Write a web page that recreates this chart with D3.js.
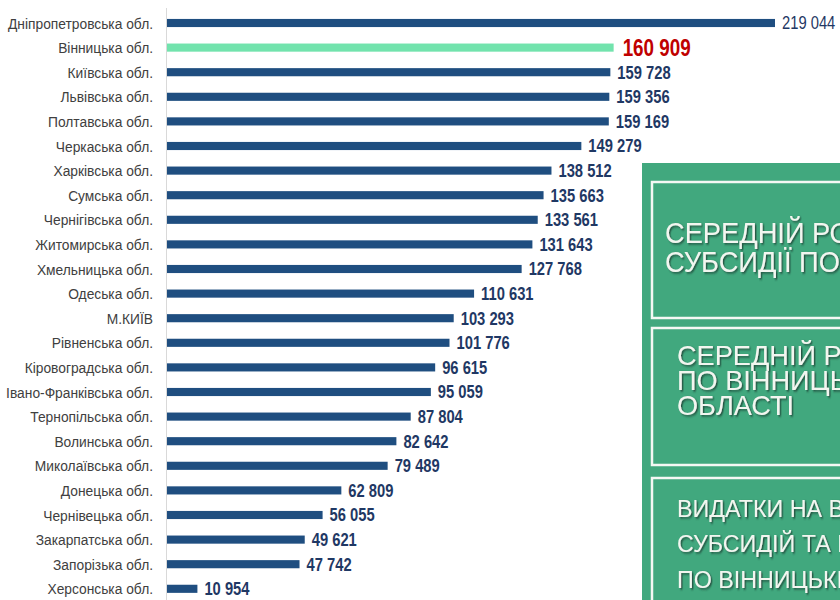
<!DOCTYPE html>
<html>
<head>
<meta charset="utf-8">
<script src="https://cdn.jsdelivr.net/npm/d3@7"></script>
<style>
  body { margin: 0; background: #fff; }
  svg { display: block; font-family: "Liberation Sans", Arial, sans-serif; }
</style>
</head>
<body>
<div id="chart"></div>
<script>
const regions = [
  'Дніпропетровська обл.', 'Вінницька обл.', 'Київська обл.', 'Львівська обл.',
  'Полтавська обл.', 'Черкаська обл.', 'Харківська обл.', 'Сумська обл.',
  'Чернігівська обл.', 'Житомирська обл.', 'Хмельницька обл.', 'Одеська обл.',
  'М.КИЇВ', 'Рівненська обл.', 'Кіровоградська обл.', 'Івано-Франківська обл.',
  'Тернопільська обл.', 'Волинська обл.', 'Миколаївська обл.', 'Донецька обл.',
  'Чернівецька обл.', 'Закарпатська обл.', 'Запорізька обл.', 'Херсонська обл.'
];
const values = [
  219044, 160909, 159728, 159356, 159169, 149279, 138512, 135663,
  133561, 131643, 127768, 110631, 103293, 101776, 96615, 95059,
  87804, 82642, 79489, 62809, 56055, 49621, 47742, 10954
];
const highlight = 'Вінницька обл.';

const boxTexts = [
  ['СЕРЕДНІЙ РОЗМІР', 'СУБСИДІЇ ПО УКРАЇНІ'],
  ['СЕРЕДНІЙ РОЗМІР СУБСИДІЇ', 'ПО ВІННИЦЬКІЙ', 'ОБЛАСТІ'],
  ['ВИДАТКИ НА ВИПЛАТУ', 'СУБСИДІЙ ТА ПІЛЬГ', 'ПО ВІННИЦЬКІЙ ОБЛАСТІ']
];

const width = 840, height = 600;
const narrow = 0.82; // Arial Narrow look: Liberation Sans squeezed horizontally
const data = regions.map((r, i) => ({ region: r, value: values[i] }));

const svg = d3.select('#chart').append('svg')
  .attr('width', width)
  .attr('height', height);

const defs = svg.append('defs');
const shadow = defs.append('filter').attr('id', 'shadow')
  .attr('x', '-5%').attr('y', '-20%').attr('width', '110%').attr('height', '150%');
shadow.append('feDropShadow')
  .attr('dx', 1.5).attr('dy', 1.5).attr('stdDeviation', 0.8)
  .attr('flood-color', '#1d4a37').attr('flood-opacity', 0.85);

const xScale = d3.scaleLinear()
  .domain([0, d3.max(values)])
  .range([167, 775]);

const yScale = d3.scaleBand()
  .domain(regions)
  .range([10.7, 601.1])
  .paddingInner(0.67)
  .paddingOuter(0.335);

const fmt = d3.formatLocale({ decimal: ',', thousands: ' ', grouping: [3], currency: ['', ''] }).format(',d');
const yMid = d => yScale(d.region) + yScale.bandwidth() / 2;

// axis line
svg.append('line')
  .attr('x1', 166.5).attr('x2', 166.5)
  .attr('y1', 8).attr('y2', height)
  .attr('stroke', '#d9d9d9')
  .attr('stroke-width', 1);

// category labels
svg.selectAll('text.cat')
  .data(data)
  .enter().append('text')
  .attr('class', 'cat')
  .attr('transform', d => `translate(153,${yMid(d)}) scale(0.89,1)`)
  .attr('dy', '0.36em')
  .attr('text-anchor', 'end')
  .attr('fill', '#404040')
  .style('font-size', '15.5px')
  .text(d => d.region);

// bars
svg.selectAll('rect.bar')
  .data(data)
  .enter().append('rect')
  .attr('class', 'bar')
  .attr('x', xScale(0))
  .attr('y', d => yScale(d.region))
  .attr('width', d => xScale(d.value) - xScale(0))
  .attr('height', yScale.bandwidth())
  .attr('fill', d => d.region === highlight ? '#72e3ad' : '#1f4e80');

// value labels
svg.selectAll('text.val')
  .data(data)
  .enter().append('text')
  .attr('class', 'val')
  .attr('transform', d => `translate(${xScale(d.value) + (d.region === highlight ? 9 : 7)},${yMid(d)}) scale(${narrow},1)`)
  .attr('dy', '0.36em')
  .attr('fill', d => d.region === highlight ? '#c00000' : '#1f3864')
  .style('font-size', d => d.region === highlight ? '23px' : '18px')
  .style('font-weight', (d, i) => i === 0 ? 'normal' : 'bold')
  .text(d => fmt(d.value));

// green panel with boxes
svg.append('rect')
  .attr('x', 642).attr('y', 163)
  .attr('width', width - 642).attr('height', height - 163)
  .attr('fill', '#41a87e');

const boxes = [
  { y: 182, h: 136, tx: 665, lines: [243, 272], size: 29, sx: 0.94 },
  { y: 328, h: 137, tx: 677, lines: [365, 390, 415], size: 28, sx: 0.97 },
  { y: 478, h: 140, tx: 677, lines: [517, 552, 588], size: 24, sx: 0.97 }
];

boxes.forEach((b, i) => {
  svg.append('rect')
    .attr('x', 652).attr('y', b.y)
    .attr('width', width - 652 + 10).attr('height', b.h)
    .attr('fill', 'none')
    .attr('stroke', '#f4f8f4')
    .attr('stroke-width', 2.5);

  svg.append('g').selectAll('text')
    .data(boxTexts[i])
    .enter().append('text')
    .attr('transform', (d, j) => `translate(${b.tx},${b.lines[j]}) scale(${b.sx},1)`)
    .attr('fill', '#f2f6f0')
    .attr('filter', 'url(#shadow)')
    .style('font-size', b.size + 'px')
    .text(d => d);
});
</script>
</body>
</html>
